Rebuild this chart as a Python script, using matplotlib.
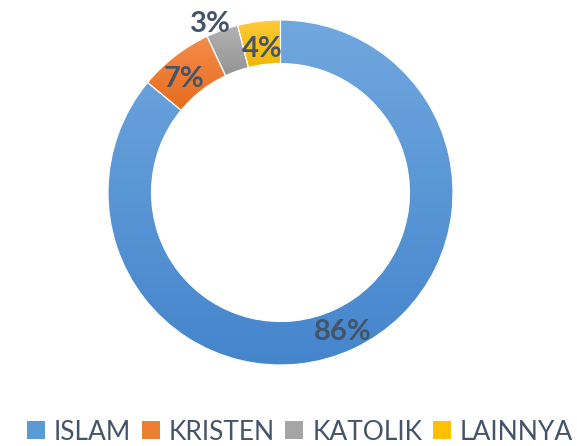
import numpy as np
import matplotlib
matplotlib.use('Agg')
import matplotlib.pyplot as plt
from matplotlib.colors import LinearSegmentedColormap
from matplotlib.patches import Patch

categories = ['ISLAM', 'KRISTEN', 'KATOLIK', 'LAINNYA']
values = [86, 7, 3, 4]
labels = ['86%', '7%', '3%', '4%']

top_colors = ['#70A7DF', '#F58C4C', '#B2B2B2', '#FFCA3A']
bottom_colors = ['#4585CC', '#E56C1D', '#949494', '#F0B700']
mid_colors = ['#5B9BD5', '#ED7D31', '#A5A5A5', '#FFC000']
text_color = '#44546A'

fig = plt.figure(figsize=(5.77, 4.46), dpi=100)
ax = fig.add_axes([0, 0, 1, 1])

cx, cy, R, W = 280.5, 253.5, 172.5, 43.5
wedges, _ = ax.pie(values, center=(cx, cy), radius=R, startangle=90,
                   counterclock=False, colors=mid_colors,
                   wedgeprops=dict(width=W, linewidth=0))

grad = np.linspace(0, 1, 256).reshape(-1, 1)
for w, c0, c1 in zip(wedges, top_colors, bottom_colors):
    ext = w.get_path().get_extents()
    cmap = LinearSegmentedColormap.from_list('g', [c0, c1])
    im = ax.imshow(grad, cmap=cmap, extent=(ext.x0, ext.x1, ext.y0, ext.y1),
                   origin='upper', aspect='auto', zorder=2, interpolation='bilinear')
    im.set_clip_path(w)
    w.set_facecolor('none')
    w.set_edgecolor('white')
    w.set_linewidth(0.8)
    w.set_zorder(3)

# label placement (radius factor, pixel offsets)
label_r = [0.874, 0.874, 1.07, 0.874]
label_dx = [-2, -4, -8, 1]
label_dy = [-3, -6, -5, -6]
for w, lab, rf, dx, dy in zip(wedges, labels, label_r, label_dx, label_dy):
    th = np.deg2rad((w.theta1 + w.theta2) / 2)
    x = cx + rf * R * np.cos(th) + dx
    y = cy + rf * R * np.sin(th) + dy
    ax.text(x, y, lab, ha='center', va='center', fontsize=21,
            fontweight='bold', color=text_color, family='Lato', zorder=5)

handles = [Patch(facecolor=c, edgecolor='none') for c in mid_colors]
leg = ax.legend(handles, categories, loc='center', bbox_to_anchor=(0.52, 0.031),
                ncol=4, frameon=False, handlelength=0.68,
                handleheight=0.68, handletextpad=0.34, columnspacing=0.4,
                borderpad=0, borderaxespad=0, prop={'family': 'Lato', 'size': 19})
for t in leg.get_texts():
    t.set_color(text_color)

ax.set_xlim(0, 577)
ax.set_ylim(0, 446)
ax.set_aspect('equal')
ax.axis('off')

fig.savefig('out.png', dpi=100)
